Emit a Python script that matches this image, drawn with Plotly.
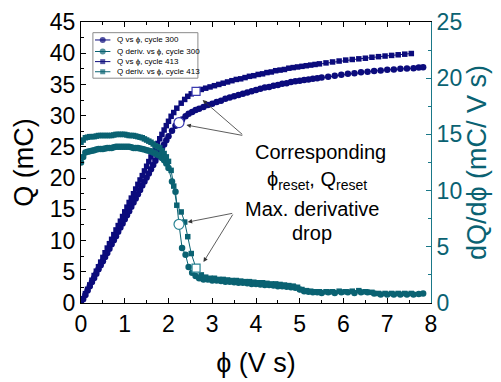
import plotly.graph_objects as go

# ---------------- data ----------------
phi_300 = [0.0, 0.05, 0.1, 0.15, 0.2, 0.25, 0.3, 0.35, 0.4, 0.45, 0.5, 0.55, 0.6, 0.65, 0.7, 0.75, 0.8, 0.85, 0.9, 0.95,
           1.0, 1.05, 1.1, 1.15, 1.2, 1.25, 1.3, 1.35, 1.4, 1.45, 1.5, 1.55, 1.6, 1.65, 1.7, 1.75, 1.8, 1.85, 1.9, 1.95, 2.0,
           2.08, 2.16, 2.24, 2.31, 2.39, 2.46, 2.54, 2.62, 2.70,
           2.8, 2.9, 3.0, 3.1, 3.2, 3.3, 3.4, 3.5, 3.6, 3.7, 3.8, 3.9, 4.0, 4.1, 4.2, 4.3, 4.4, 4.5, 4.6, 4.7,
           4.8, 4.9, 5.0, 5.1, 5.2, 5.3, 5.4, 5.5,
           5.65, 5.8, 5.95, 6.1, 6.25, 6.4, 6.55, 6.7, 6.85, 7.0, 7.15, 7.3, 7.45, 7.6, 7.72, 7.82]
Q_300 = [0.0, 0.65, 1.3, 2.0, 2.7, 3.35, 4.0, 4.7, 5.4, 6.05, 6.7, 7.35, 8.0, 8.7, 9.4, 10.05, 10.7, 11.4, 12.1, 12.75,
         13.4, 14.05, 14.7, 15.4, 16.1, 16.75, 17.4, 18.1, 18.8, 19.45, 20.1, 20.75, 21.4, 22.1, 22.8, 23.45, 24.1, 24.75, 25.4, 26.05, 26.7,
         27.6, 28.4, 28.9, 29.4, 29.9, 30.3, 30.6, 30.9, 31.1,
         31.4, 31.7, 31.9, 32.2, 32.4, 32.7, 32.9, 33.1, 33.3, 33.5, 33.7, 33.9, 34.1, 34.3, 34.5, 34.6, 34.8, 34.9, 35.1, 35.2,
         35.4, 35.5, 35.6, 35.7, 35.8, 35.9, 36.0, 36.1,
         36.25, 36.4, 36.55, 36.7, 36.8, 36.95, 37.05, 37.15, 37.25, 37.35, 37.4, 37.5, 37.55, 37.6, 37.7, 37.75]
dQ_300 = [12.5, 13.0, 13.4, 13.45, 13.5, 13.55, 13.6, 13.65, 13.7, 13.7, 13.7, 13.75, 13.8, 13.8, 13.8, 13.85, 13.9, 13.9, 13.9, 13.9,
          13.9, 13.9, 13.9, 13.85, 13.8, 13.8, 13.8, 13.75, 13.7, 13.65, 13.6, 13.55, 13.5, 13.4, 13.3, 13.2, 13.1, 12.9, 12.7, 12.4, 12.0,
          10.8, 9.9, 7.0, 4.9, 4.3, 3.2, 2.7, 2.4, 2.2,
          2.1, 2.1, 2.0, 2.0, 1.95, 1.9, 1.9, 1.85, 1.8, 1.8, 1.75, 1.7, 1.7, 1.65, 1.6, 1.6, 1.55, 1.5, 1.5, 1.45,
          1.4, 1.35, 1.2, 1.05, 1.0, 0.95, 0.95, 0.9,
          0.95, 0.9, 0.95, 0.95, 0.9, 0.95, 0.95, 0.85, 0.75, 0.75, 0.75, 0.75, 0.75, 0.75, 0.8, 0.85]

phi_413 = [0.0, 0.05, 0.1, 0.15, 0.2, 0.25, 0.3, 0.35, 0.4, 0.45, 0.5, 0.55, 0.6, 0.65, 0.7, 0.75, 0.8, 0.85, 0.9, 0.95,
           1.0, 1.05, 1.1, 1.15, 1.2, 1.25, 1.3, 1.35, 1.4, 1.45, 1.5, 1.55, 1.6, 1.65, 1.7, 1.75, 1.8, 1.85, 1.9, 1.95, 2.0,
           2.06, 2.12, 2.19, 2.29, 2.37, 2.44, 2.52, 2.63,
           2.75, 2.85, 2.95, 3.05, 3.15, 3.25, 3.35, 3.45, 3.55, 3.65, 3.75, 3.85, 3.95, 4.05, 4.15, 4.25, 4.35, 4.45,
           4.55, 4.65, 4.75, 4.85, 4.95, 5.05, 5.15, 5.25, 5.35, 5.45,
           5.6, 5.75, 5.9, 6.05, 6.2, 6.35, 6.5, 6.65, 6.8, 6.95, 7.1, 7.25, 7.4, 7.55]
Q_413 = [0.0, 0.7, 1.5, 2.2, 2.9, 3.65, 4.4, 5.1, 5.8, 6.55, 7.3, 8.05, 8.8, 9.5, 10.2, 10.95, 11.7, 12.4, 13.1, 13.85,
         14.6, 15.35, 16.1, 16.8, 17.5, 18.25, 19.0, 19.7, 20.4, 21.15, 21.9, 22.65, 23.4, 24.1, 24.8, 25.55, 26.3, 27.0, 27.7, 28.4, 29.1,
         29.9, 30.5, 31.2, 32.0, 32.6, 33.1, 33.5, 33.9,
         34.2, 34.4, 34.6, 34.8, 35.0, 35.2, 35.4, 35.6, 35.8, 35.9, 36.1, 36.3, 36.4, 36.6, 36.7, 36.9, 37.0, 37.2,
         37.3, 37.4, 37.6, 37.7, 37.8, 37.9, 38.0, 38.1, 38.2, 38.3,
         38.45, 38.6, 38.75, 38.9, 39.0, 39.1, 39.2, 39.35, 39.45, 39.55, 39.65, 39.75, 39.85, 39.95]
dQ_413 = [14.3, 14.5, 14.7, 14.75, 14.8, 14.8, 14.8, 14.85, 14.9, 14.9, 14.9, 14.9, 14.9, 14.9, 14.9, 14.95, 15.0, 15.0, 15.0, 15.0,
          15.0, 14.95, 14.9, 14.9, 14.9, 14.85, 14.8, 14.75, 14.7, 14.6, 14.5, 14.4, 14.3, 14.15, 14.0, 13.9, 13.8, 13.55, 13.3, 13.0, 12.6,
          11.8, 10.4, 8.7, 8.1, 7.2, 5.9, 4.4, 3.1,
          2.5, 2.3, 2.2, 2.2, 2.1, 2.1, 2.05, 2.0, 2.0, 1.95, 1.9, 1.9, 1.85, 1.8, 1.8, 1.75, 1.7, 1.7,
          1.65, 1.6, 1.55, 1.5, 1.4, 1.2, 1.1, 1.05, 1.0, 1.0,
          1.0, 1.0, 1.05, 1.0, 1.05, 1.1, 1.0, 0.95, 0.85, 0.85, 0.85, 0.85, 0.85, 0.85]

reset_phi_300 = 2.24
reset_phi_413 = 2.63

x_ticks = [0, 1, 2, 3, 4, 5, 6, 7, 8]
q_ticks = [0, 5, 10, 15, 20, 25, 30, 35, 40, 45]
d_ticks = [0, 5, 10, 15, 20, 25]

legend_names = ["Q vs \u03d5, cycle 300", "Q deriv. vs \u03d5, cycle 300",
                "Q vs \u03d5, cycle 413", "Q deriv. vs \u03d5, cycle 413"]

assert len(phi_300) == len(Q_300) == len(dQ_300)
assert len(phi_413) == len(Q_413) == len(dQ_413)
r300 = phi_300.index(reset_phi_300)
r413 = phi_413.index(reset_phi_413)

# ---------------- styling ----------------
NAVY = "#0b0b7c"
TEAL = "#0a6272"
AXTEAL = "#1a7888"
FONT = "Liberation Sans, Arial, sans-serif"

fig = go.Figure()

def add_series(x, y, name, color, symbol, size, axis):
    fig.add_trace(go.Scatter(
        x=x, y=y, name=name, mode="lines+markers", yaxis=axis, showlegend=False,
        line=dict(color=color, width=1),
        marker=dict(color=color, symbol=symbol, size=size, line=dict(width=0)),
    ))

series_style = [(NAVY, "circle", 6.5), (TEAL, "circle", 6.5), (NAVY, "square", 5.5), (TEAL, "square", 5.5)]

add_series(phi_300, Q_300, legend_names[0], *series_style[0], "y")
add_series(phi_300, dQ_300, legend_names[1], *series_style[1], "y2")
add_series(phi_413, Q_413, legend_names[2], *series_style[2], "y")
add_series(phi_413, dQ_413, legend_names[3], *series_style[3], "y2")

# open markers at the reset points
def add_open(x, y, color, symbol, size, axis):
    fig.add_trace(go.Scatter(
        x=[x], y=[y], mode="markers", yaxis=axis, showlegend=False,
        marker=dict(color="white", symbol=symbol, size=size, line=dict(color=color, width=1.2)),
    ))

add_open(phi_300[r300], Q_300[r300], "#3a3ab0", "circle", 10, "y")
add_open(phi_413[r413], Q_413[r413], "#3a3ab0", "square", 8, "y")
add_open(phi_300[r300], dQ_300[r300], "#2a8494", "circle", 10, "y2")
add_open(phi_413[r413], dQ_413[r413], "#2a8494", "square", 8, "y2")

annotations = []
shapes = []

# compact custom legend (plot-fraction coordinates on hidden axes x2 / y3)
leg_rows = [0.936, 0.895, 0.859, 0.823]
shapes.append(dict(type="rect", xref="paper", yref="paper", x0=0.034, x1=0.334, y0=0.800, y1=0.962,
                   line=dict(color="#8a8a8a", width=1), fillcolor="white", layer="below"))
for name, (color, symbol, size), ry in zip(legend_names, series_style, leg_rows):
    fig.add_trace(go.Scatter(
        x=[0.040, 0.062, 0.084], y=[ry, ry, ry], xaxis="x2", yaxis="y3", mode="lines+markers",
        showlegend=False, hoverinfo="skip", cliponaxis=False,
        line=dict(color=color, width=1),
        marker=dict(color=color, symbol=symbol, size=[0, size - 0.5, 0], line=dict(width=0)),
    ))
    annotations.append(dict(x=0.097, y=ry, xref="paper", yref="paper", text=name, showarrow=False,
                            xanchor="left", yanchor="middle",
                            font=dict(family=FONT, size=8, color="black")))

# arrows (tail in data coords, tip next to the reset markers)
def arrow(tip_x, tip_y, tail_x, tail_y, yref):
    annotations.append(dict(
        x=tip_x, y=tip_y, xref="x", yref=yref, ax=tail_x, ay=tail_y, axref="x", ayref=yref,
        text="", showarrow=True, arrowhead=2, arrowsize=1.1, arrowwidth=0.8, arrowcolor="#333333",
    ))

arrow(phi_300[r300] + 0.17, Q_300[r300] - 0.4, 3.72, 26.8, "y")
arrow(phi_413[r413] + 0.15, Q_413[r413] - 1.4, 3.72, 26.8, "y")
arrow(phi_300[r300] + 0.2, dQ_300[r300] + 0.2, 3.49, 8.0, "y2")
arrow(phi_413[r413] + 0.17, dQ_413[r413] + 0.55, 3.49, 8.0, "y2")

def label(text, xp, yp):
    annotations.append(dict(
        x=xp, y=yp, xref="paper", yref="paper", text=text, showarrow=False,
        xanchor="center", yanchor="middle", font=dict(family=FONT, size=20, color="black"),
    ))

label("Corresponding", 0.683, 0.537)
label("\u03d5<sub>reset</sub>, Q<sub>reset</sub>", 0.675, 0.435)
label("Max. derivative", 0.66, 0.335)
label("drop", 0.66, 0.248)

fig.update_layout(
    width=501, height=382,
    margin=dict(l=81, r=70, t=22, b=79, autoexpand=False),
    paper_bgcolor="white", plot_bgcolor="white",
    font=dict(family=FONT, color="black"),
    showlegend=False,
    annotations=annotations,
    shapes=shapes,
    xaxis=dict(
        range=[0, 8], tickvals=x_ticks, ticks="inside", ticklen=5, tickwidth=1, tickcolor="black",
        showline=True, linecolor="black", linewidth=1, mirror="ticks", showgrid=False, zeroline=False,
        tickfont=dict(size=23, family=FONT, color="black"),
        minor=dict(ticks="inside", dtick=0.5, ticklen=3, tickcolor="black"),
        title=dict(text="\u03d5 (V s)", font=dict(size=27, family=FONT, color="black"), standoff=17),
        automargin=False,
    ),
    xaxis2=dict(range=[0, 1], overlaying="x", visible=False, fixedrange=True),
    yaxis=dict(
        range=[0, 45], tickvals=q_ticks, ticks="inside", ticklen=5, tickwidth=1, tickcolor="black",
        showline=True, linecolor="black", linewidth=1, showgrid=False, zeroline=False,
        tickfont=dict(size=23, family=FONT, color="black"),
        minor=dict(ticks="inside", dtick=2.5, ticklen=3, tickcolor="black"),
        title=dict(text="Q (mC)", font=dict(size=27, family=FONT, color="black"), standoff=8),
        automargin=False,
    ),
    yaxis2=dict(
        range=[0, 25], tickvals=d_ticks, ticks="inside", ticklen=5, tickwidth=1, tickcolor=AXTEAL,
        overlaying="y", side="right",
        showline=True, linecolor=AXTEAL, linewidth=1, showgrid=False, zeroline=False,
        tickfont=dict(size=23, family=FONT, color=TEAL),
        minor=dict(ticks="inside", dtick=2.5, ticklen=3, tickcolor=AXTEAL),
        title=dict(text="dQ/d\u03d5 (mC/ V s)", font=dict(size=27, family=FONT, color=TEAL), standoff=2),
        automargin=False,
    ),
    yaxis3=dict(range=[0, 1], overlaying="y", visible=False, fixedrange=True),
)

fig.write_html("out.html")
